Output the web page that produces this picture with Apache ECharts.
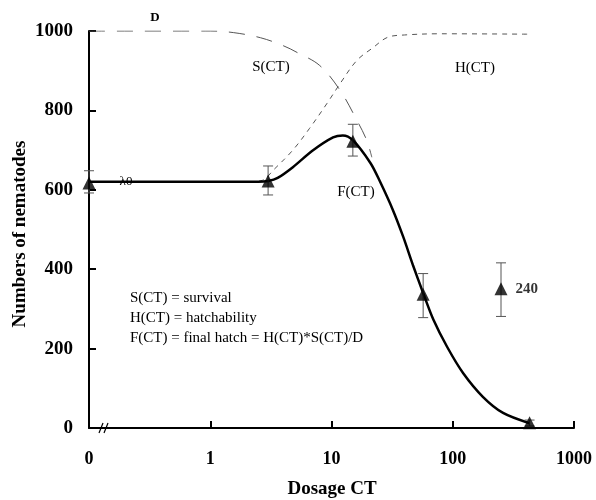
<!DOCTYPE html>
<html>
<head>
<meta charset="utf-8">
<script src="https://cdn.jsdelivr.net/npm/echarts@6/dist/echarts.min.js"></script>
<style>html,body{margin:0;padding:0;background:#fff;}#c{width:596px;height:500px;}</style>
</head>
<body>
<div id="c"></div>
<script>
// ---- data (dose 0 is drawn at the axis break, one decade below 1) ----
var xTickLabels = ['0', '1', '10', '100', '1000'];
var yTicks = [0, 200, 400, 600, 800, 1000];

var obsDose  = [0, 3, 15, 57, 430];
var obsValue = [617, 622, 722, 337, 13];
var obsLow   = [592, 587, 685, 278, 5];
var obsHigh  = [648, 660, 765, 389, 20];

var extraDose = [250];
var extraValue = [351];
var extraLow = [281];
var extraHigh = [416];

var fDose  = [0, 1, 2.5, 3, 3.6, 4.8, 7, 10.3, 12.4, 15, 21, 25, 32, 39, 47, 57, 69, 90, 122, 178, 260, 430];
var fValue = [620, 620, 620, 622, 630, 657, 699, 732, 737, 725, 667, 622, 550, 482, 410, 340, 274, 204, 138, 78, 38, 12];

var sDose  = [0, 1, 1.55, 2.6, 4, 5.2, 8, 11.8, 16.2, 19.5, 21.5];
var sValue = [1000, 1000, 996, 983, 963, 946, 913, 850, 775, 725, 682];

var hDose  = [0, 1, 2, 2.7, 3.3, 4.8, 6.6, 9.2, 11.8, 16.2, 22, 29, 40, 80, 420];
var hValue = [620, 620, 620, 624, 649, 700, 755, 818, 868, 926, 958, 984, 990, 993, 992];

var BREAK = 0.1;
function px(d) { return d === 0 ? BREAK : d; }
function pairs(xs, ys) { return xs.map(function (x, i) { return [px(x), ys[i]]; }); }

var serif = '"Liberation Serif","Times New Roman",serif';
var chart = echarts.init(document.getElementById('c'));

function errRender(params, api) {
  var x = api.value(0);
  var lo = api.coord([x, api.value(1)]);
  var hi = api.coord([x, api.value(2)]);
  var w = 5;
  var st = { stroke: '#555', lineWidth: 1 };
  return { type: 'group', children: [
    { type: 'line', shape: { x1: lo[0], y1: lo[1], x2: hi[0], y2: hi[1] }, style: st },
    { type: 'line', shape: { x1: lo[0] - w, y1: lo[1], x2: lo[0] + w, y2: lo[1] }, style: st },
    { type: 'line', shape: { x1: hi[0] - w, y1: hi[1], x2: hi[0] + w, y2: hi[1] }, style: st }
  ]};
}

var errData = obsDose.map(function (d, i) { return [px(d), obsLow[i], obsHigh[i]]; })
  .concat(extraDose.map(function (d, i) { return [d, extraLow[i], extraHigh[i]]; }));

chart.setOption({
  animation: false,
  grid: { left: 89, right: 22, top: 31, bottom: 72 },
  xAxis: {
    type: 'log', logBase: 10, min: BREAK, max: 1000,
    axisLine: { lineStyle: { color: '#000', width: 2 } },
    axisTick: { inside: true, length: 7, lineStyle: { color: '#000', width: 2 } },
    minorTick: { show: false },
    splitLine: { show: false },
    axisLabel: {
      margin: 22, color: '#000', fontFamily: serif, fontWeight: 'bold', fontSize: 18,
      formatter: function (v) {
        var k = Math.round(Math.log(v) / Math.LN10) + 1;
        return xTickLabels[k];
      }
    }
  },
  yAxis: {
    type: 'value', min: 0, max: 1000, interval: 200,
    axisLine: { show: true, lineStyle: { color: '#000', width: 2 } },
    axisTick: { show: true, inside: true, length: 7, lineStyle: { color: '#000', width: 2 } },
    splitLine: { show: false },
    axisLabel: { margin: 16, color: '#000', fontFamily: serif, fontWeight: 'bold', fontSize: 19,
      formatter: function (v) { return yTicks.indexOf(v) >= 0 ? String(v) : ''; } }
  },
  series: [
    { type: 'line', data: pairs(hDose, hValue), smooth: 0.35, showSymbol: false,
      lineStyle: { color: '#555', width: 1, type: [5, 5] }, z: 2 },
    { type: 'line', data: pairs(sDose, sValue), smooth: 0.35, showSymbol: false,
      lineStyle: { color: '#555', width: 1, type: [16, 12] }, z: 2 },
    { type: 'line', data: pairs(fDose, fValue), smooth: 0.3, showSymbol: false,
      lineStyle: { color: '#000', width: 2.5 }, z: 3 },
    { type: 'custom', renderItem: errRender, data: errData, z: 4 },
    { type: 'scatter', data: pairs(obsDose, obsValue), symbol: 'triangle', symbolSize: 13,
      itemStyle: { color: '#000' }, z: 5 },
    { type: 'scatter', data: pairs(extraDose, extraValue), symbol: 'triangle', symbolSize: 13,
      itemStyle: { color: '#000' }, z: 5,
      label: { show: true, position: 'right', distance: 8, formatter: '240',
        color: '#000', fontFamily: serif, fontWeight: 'bold', fontSize: 15 } }
  ],
  graphic: [
    { type: 'text', rotation: Math.PI / 2, x: 20, y: 234,
      style: { text: 'Numbers of nematodes', fill: '#000', font: 'bold 19px ' + serif,
        textAlign: 'center', textVerticalAlign: 'middle' } },
    { type: 'text', x: 332, y: 489,
      style: { text: 'Dosage CT', fill: '#000', font: 'bold 19px ' + serif, textAlign: 'center', textVerticalAlign: 'middle' } },
    { type: 'text', x: 155, y: 18,
      style: { text: 'D', fill: '#000', font: 'bold 13px ' + serif, textAlign: 'center', textVerticalAlign: 'middle' } },
    { type: 'text', x: 271, y: 67,
      style: { text: 'S(CT)', fill: '#000', font: '15px ' + serif, textAlign: 'center', textVerticalAlign: 'middle' } },
    { type: 'text', x: 475, y: 68,
      style: { text: 'H(CT)', fill: '#000', font: '15px ' + serif, textAlign: 'center', textVerticalAlign: 'middle' } },
    { type: 'text', x: 356, y: 192,
      style: { text: 'F(CT)', fill: '#000', font: '15px ' + serif, textAlign: 'center', textVerticalAlign: 'middle' } },
    { type: 'text', x: 126, y: 182,
      style: { text: 'λ0', fill: '#000', font: '13px ' + serif, textAlign: 'center', textVerticalAlign: 'middle' } },
    { type: 'text', x: 130, y: 298,
      style: { text: 'S(CT) = survival', fill: '#000', font: '15px ' + serif, textVerticalAlign: 'middle' } },
    { type: 'text', x: 130, y: 318,
      style: { text: 'H(CT) = hatchability', fill: '#000', font: '15px ' + serif, textVerticalAlign: 'middle' } },
    { type: 'text', x: 130, y: 338,
      style: { text: 'F(CT) = final hatch = H(CT)*S(CT)/D', fill: '#000', font: '15px ' + serif, textVerticalAlign: 'middle' } },
    { type: 'line', shape: { x1: 99, y1: 433, x2: 103, y2: 423 }, style: { stroke: '#000', lineWidth: 1.2 } },
    { type: 'line', shape: { x1: 104, y1: 433, x2: 108, y2: 423 }, style: { stroke: '#000', lineWidth: 1.2 } }
  ]
});
</script>
</body>
</html>
